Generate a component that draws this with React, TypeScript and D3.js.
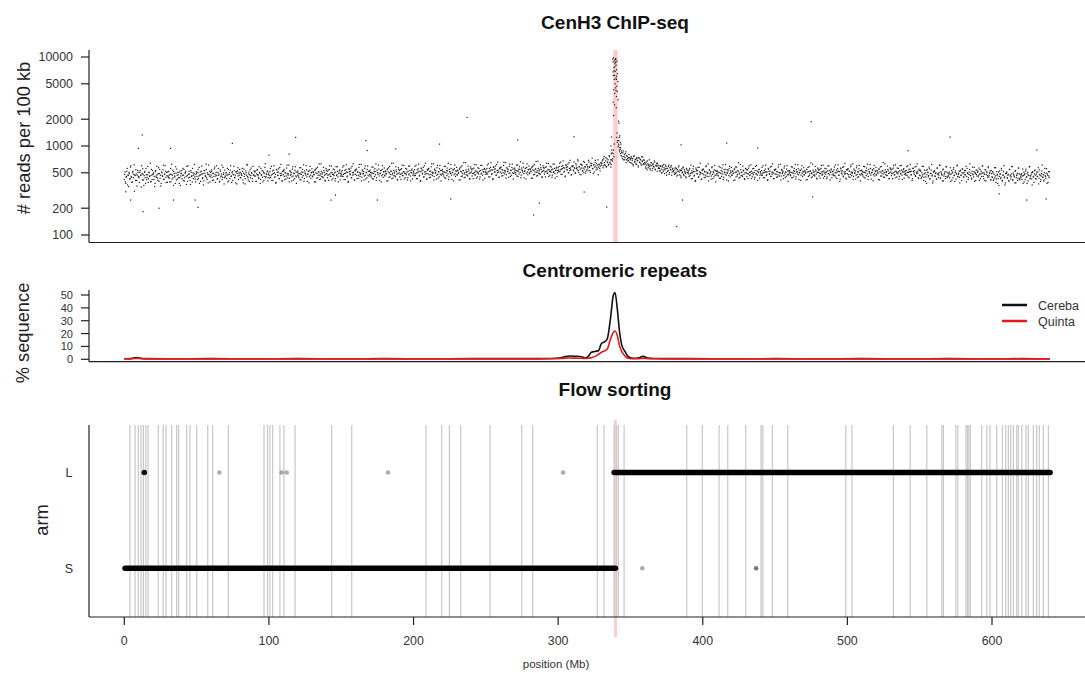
import React from "react";
import * as d3 from "d3";

// CenH3 ChIP-seq reads per 100 kb, one value every 0.5 Mb (rows of 10 Mb)
const chipReads = [
  420,510,380,455,560,470,350,490,430,600,445,395,520,480,310,465,540,410,470,505,
  455,390,530,470,600,415,480,360,505,440,560,420,475,390,510,455,640,400,470,530,
  480,420,350,515,460,590,435,490,400,545,470,380,500,455,610,425,485,520,390,465,
  510,440,470,395,560,480,425,535,360,490,450,585,415,470,505,440,380,525,460,495,
  430,560,470,405,495,520,370,465,600,440,485,410,530,455,395,500,470,620,425,480,
  495,420,545,460,380,510,475,595,430,490,405,530,465,625,440,500,385,480,520,450,
  470,540,410,495,455,580,390,505,470,430,560,485,400,520,460,610,445,480,375,535,
  450,505,470,395,545,480,430,600,460,500,410,475,530,445,385,515,490,570,420,470,
  505,440,480,560,415,495,455,375,525,470,610,440,485,400,540,465,500,430,590,475,
  460,520,400,485,545,470,430,505,380,560,475,445,520,410,495,630,455,480,525,440,
  500,435,560,470,410,525,490,600,445,480,390,540,470,510,430,575,465,495,405,520,
  475,545,420,500,460,610,440,485,395,530,470,505,450,585,415,490,535,460,380,510,
  525,460,490,420,570,480,445,505,615,430,495,470,540,400,485,520,455,590,435,500,
  460,515,480,395,545,500,435,575,470,510,420,485,630,455,500,440,530,470,405,560,
  490,440,535,475,600,455,505,415,480,550,465,500,430,585,475,520,395,490,540,460,
  510,455,580,480,420,530,495,615,450,505,400,545,485,525,440,590,470,505,415,535,
  480,550,430,510,470,620,455,495,405,540,485,515,460,595,425,500,545,470,395,520,
  535,470,500,430,580,490,455,515,630,440,505,480,550,410,495,530,465,600,445,510,
  470,525,490,405,555,510,445,590,480,520,430,495,640,465,510,450,540,480,415,570,
  500,450,545,485,610,465,515,425,490,560,475,510,440,595,485,530,405,500,550,470,
  520,465,590,490,430,540,505,625,460,515,410,555,495,535,450,600,480,515,425,545,
  490,560,440,520,480,630,465,505,415,550,495,525,470,605,435,510,555,480,405,530,
  545,480,510,440,590,500,465,525,640,450,515,490,560,420,505,540,475,610,455,520,
  480,535,500,415,565,520,455,600,490,530,440,505,650,475,520,460,550,490,425,580,
  510,460,555,495,620,475,525,435,500,570,485,520,450,605,495,540,415,510,560,480,
  540,485,610,510,450,560,525,650,480,535,430,575,515,555,470,620,500,535,445,565,
  510,580,460,540,500,655,485,525,435,570,515,545,490,625,455,530,575,500,425,550,
  565,500,530,460,610,520,485,545,665,470,535,510,580,440,525,560,495,630,475,540,
  500,555,520,435,585,540,475,620,510,550,460,525,675,495,540,480,570,510,445,600,
  530,480,575,515,640,495,545,455,520,590,505,540,470,625,515,560,435,530,580,500,
  570,515,640,540,480,590,555,680,510,565,460,605,545,585,500,650,530,565,475,595,
  590,535,660,560,500,610,575,700,530,585,480,625,565,605,520,670,550,585,495,615,
  620,565,690,590,530,640,605,730,560,615,510,655,595,635,550,700,580,615,525,645,
  610,680,570,720,650,600,740,590,660,700,620,760,640,580,700,680,820,760,6200,8800,
  4200,1250,1100,980,1020,860,920,780,840,720,880,760,700,820,650,780,720,690,800,740,
  700,760,640,720,600,780,670,710,620,740,690,580,730,650,700,610,680,750,630,690,
  620,580,660,540,630,600,700,560,610,650,530,620,590,680,550,600,640,520,610,570,
  560,520,600,500,580,540,620,490,555,590,470,560,530,610,500,545,580,470,550,520,
  530,480,570,500,460,545,520,600,475,530,440,555,510,580,465,520,495,440,540,500,
  510,455,560,490,430,525,500,590,460,515,410,545,490,530,445,575,475,505,420,535,
  490,545,440,510,470,600,455,500,405,540,485,515,460,585,430,500,540,470,395,520,
  525,470,500,435,575,490,455,515,615,445,505,480,545,415,495,525,465,590,450,505,
  470,520,490,410,550,505,450,580,480,515,435,495,620,465,505,455,535,480,420,560,
  500,455,540,485,600,465,510,430,490,555,475,505,445,590,485,525,410,500,545,470,
  515,470,575,495,440,530,505,610,465,510,420,550,490,520,455,590,480,510,430,540,
  485,550,445,515,475,615,460,500,415,545,490,520,465,595,440,505,550,475,400,525,
  530,475,505,440,580,495,460,520,620,450,510,485,555,420,500,530,470,600,455,510,
  475,525,495,415,545,510,455,585,485,520,440,500,625,470,510,460,540,485,425,565,
  505,460,545,490,605,470,515,435,495,560,480,510,450,595,490,530,415,505,550,475,
  520,465,580,500,445,535,510,615,470,515,425,555,495,525,460,585,485,515,435,545,
  490,555,450,520,480,610,465,505,420,550,495,525,470,600,445,510,555,480,405,530,
  535,480,510,445,585,500,465,525,625,455,515,490,560,425,505,535,475,605,460,515,
  480,530,500,420,550,515,460,590,490,525,445,505,630,475,515,465,545,490,430,570,
  510,465,550,495,610,475,520,440,500,565,485,515,455,600,495,535,420,510,555,480,
  525,470,585,505,450,540,515,620,475,520,430,560,500,530,465,590,490,520,440,550,
  470,535,430,500,460,590,445,485,400,530,475,505,450,580,425,490,535,460,385,510,
  515,460,490,425,565,480,445,505,605,435,495,470,540,405,485,515,455,585,440,495,
  460,510,480,400,530,495,440,570,470,505,425,485,610,455,495,445,525,470,410,550,
  490,445,530,475,590,455,500,420,480,545,465,495,435,580,475,515,400,490,535,460,
  505,450,565,485,430,520,495,600,455,500,410,540,480,510,445,570,470,500,420,530,
  450,515,410,480,440,570,425,465,380,510,455,485,430,560,405,470,515,440,365,490,
  495,440,470,405,545,460,425,485,585,415,475,450,520,385,465,495,435,565,420,475,
  440,490,460,380,510,475,420,550,450,485,405,465,590,435,475,425,505,450,390,530,
  470,425,510,455,570,435,480,400,460,525,445,475,415,560,455,495,380,470,515,440,
];
// the bins in between (offset 0.25 Mb)
const chipReadsMid = [
  480,395,445,520,365,470,505,425,580,455,390,500,440,615,470,410,485,355,530,450,
  440,505,470,345,490,555,415,465,520,380,475,445,590,430,500,465,395,545,420,485,
  500,455,380,530,445,475,410,570,490,435,355,510,465,540,420,480,600,445,505,390,
  455,520,435,480,395,625,470,440,515,460,380,495,550,425,475,505,440,360,490,530,
  470,410,545,440,500,455,590,400,480,520,445,370,505,465,560,430,490,450,395,515,
  455,505,430,575,470,400,520,485,440,365,530,495,455,545,420,480,610,460,395,505,
  520,445,490,415,555,480,460,600,425,505,470,395,540,450,485,420,575,500,440,460,
  485,430,560,475,405,500,535,455,390,515,480,590,440,470,510,375,525,460,495,545,
  440,495,465,520,385,550,480,430,500,620,455,415,510,475,440,565,495,400,470,525,
  510,460,400,535,475,445,585,490,420,470,530,395,500,455,575,440,485,515,405,480,
  465,520,445,590,480,410,535,500,450,380,545,505,465,555,430,490,620,470,405,515,
  530,455,500,425,565,490,470,610,435,515,480,405,550,460,495,430,585,510,450,470,
  495,440,570,485,415,510,545,465,400,525,490,600,450,480,520,385,535,470,505,555,
  450,505,475,530,395,560,490,440,510,630,465,425,520,485,450,575,505,410,480,535,
  520,470,410,545,485,455,595,500,430,480,540,405,510,465,585,450,495,525,415,490,
  475,530,455,600,490,420,545,510,460,390,555,515,475,565,440,500,630,480,415,525,
  540,465,510,435,575,500,480,620,445,525,490,415,560,470,505,440,595,520,460,480,
  505,450,580,495,425,520,555,475,410,535,500,610,460,490,530,395,545,480,515,565,
  460,515,485,540,405,570,500,450,520,640,475,435,530,495,460,585,515,420,490,545,
  530,480,420,555,495,465,605,510,440,490,550,415,520,475,595,460,505,535,425,500,
  485,540,465,610,500,430,555,520,470,400,565,525,485,575,450,510,640,490,425,535,
  550,475,520,445,585,510,490,630,455,535,500,425,570,480,515,450,605,530,470,490,
  515,460,590,505,435,530,565,485,420,545,510,620,470,500,540,405,555,490,525,575,
  470,525,495,550,415,580,510,460,530,650,485,445,540,505,470,595,525,430,500,555,
  540,490,430,565,505,475,615,520,450,500,560,425,530,485,605,470,515,545,435,510,
  505,560,485,630,520,450,575,540,490,420,585,545,505,595,470,530,660,510,445,555,
  570,495,540,465,605,530,510,650,475,555,520,445,590,500,535,470,625,550,490,510,
  535,480,610,525,455,550,585,505,440,565,530,640,490,520,560,425,575,510,545,595,
  490,545,515,570,435,600,530,480,550,670,505,465,560,525,490,615,545,450,520,575,
  560,510,450,585,525,495,635,540,470,520,580,445,550,505,625,490,535,565,455,530,
  535,590,515,660,550,480,605,570,520,450,615,575,535,625,500,560,690,540,475,585,
  600,525,570,495,635,560,540,680,505,585,550,475,620,530,565,500,655,580,520,540,
  585,530,660,575,505,600,635,555,490,615,580,690,540,570,610,475,625,560,595,645,
  640,700,600,760,620,680,580,720,650,610,780,660,700,620,840,720,900,1050,7800,9400,
  5600,1400,1150,1050,900,960,820,880,760,840,700,800,740,860,700,760,680,740,660,720,
  650,730,690,620,760,660,700,640,720,680,600,740,660,710,630,760,670,620,700,650,
  640,560,610,680,570,620,590,540,650,600,560,630,580,660,540,610,590,640,560,600,
  530,590,550,500,600,520,570,540,610,500,560,520,590,480,570,540,600,510,560,530,
  500,550,490,560,520,470,580,510,540,460,530,500,570,480,545,510,450,560,500,530,
  485,540,465,610,500,430,555,520,470,400,565,525,485,575,450,510,640,490,425,535,
  550,475,520,445,585,510,490,630,455,535,500,425,570,480,515,450,605,530,470,490,
  515,460,590,505,435,530,565,485,420,545,510,620,470,500,540,405,555,490,525,575,
  470,525,495,550,415,580,510,460,530,650,485,445,540,505,470,595,525,430,500,555,
  540,490,430,565,505,475,615,520,450,500,560,425,530,485,605,470,515,545,435,510,
  490,530,470,600,505,440,550,515,475,410,560,520,480,580,455,505,630,495,430,530,
  545,480,515,450,580,505,495,625,460,530,505,430,565,485,510,455,600,525,475,495,
  510,465,585,500,440,525,560,490,425,540,515,615,475,505,535,410,550,495,520,570,
  475,520,500,545,420,575,515,465,525,645,490,450,535,510,475,590,520,435,505,550,
  535,495,435,560,510,480,610,525,455,505,555,430,525,490,600,475,510,540,440,515,
  485,540,465,610,500,430,555,520,470,400,565,525,485,575,450,510,640,490,425,535,
  550,475,520,445,585,510,490,630,455,535,500,425,570,480,515,450,605,530,470,490,
  515,460,590,505,435,530,565,485,420,545,510,620,470,500,540,405,555,490,525,575,
  470,525,495,550,415,580,510,460,530,650,485,445,540,505,470,595,525,430,500,555,
  540,490,430,565,505,475,615,520,450,500,560,425,530,485,605,470,515,545,435,510,
  490,530,470,600,505,440,550,515,475,410,560,520,480,580,455,505,630,495,430,530,
  465,520,445,590,480,410,535,500,450,380,545,505,465,555,430,490,620,470,405,515,
  530,455,500,425,565,490,470,610,435,515,480,405,550,460,495,430,585,510,450,470,
  495,440,570,485,415,510,545,465,400,525,490,600,450,480,520,385,535,470,505,555,
  450,505,475,530,395,560,490,440,510,630,465,425,520,485,450,575,505,410,480,535,
  520,470,410,545,485,455,595,500,430,480,540,405,510,465,585,450,495,525,415,490,
  445,500,425,570,460,390,515,480,430,360,525,485,445,535,410,470,600,450,385,495,
  510,435,480,405,545,470,450,590,415,495,460,385,530,440,475,410,565,490,430,450,
  475,420,550,465,395,490,525,445,380,505,470,580,430,460,500,365,515,450,485,535,
  430,485,455,510,375,540,470,420,490,610,445,405,500,465,430,555,485,390,460,515,
];
const chipStep = 0.5;

// scattered bins away from the main band
const outlierPos = [1, 4.4, 9.7, 12.4, 13, 24, 32, 34, 49, 51, 74.7, 100, 114, 118.5, 143, 146, 167, 168, 175, 187.7, 218, 225.7, 237, 272, 283, 287, 311, 318, 333.6, 382, 385, 386, 416.6, 438, 475, 476, 542, 571, 605, 624, 631, 637.5];
const outlierReads = [306, 247, 940, 1330, 183, 200, 940, 247, 247, 205, 1070, 790, 810, 1250, 247, 281, 1150, 890, 247, 930, 1050, 254, 2100, 1170, 168, 229, 1270, 304, 206, 124, 1030, 247, 1080, 950, 1877, 267, 885, 1260, 290, 247, 900, 254];

// centromere bins
const cenPos = [337.6, 338.0, 338.3, 338.6, 338.9, 339.2, 339.5, 339.8, 340.1, 340.4, 340.7, 341.0, 338.2, 338.8, 339.4, 340.0, 340.6, 341.2, 338.5, 339.1, 339.7, 340.3, 340.9, 341.5, 338.1, 339.0, 340.2, 338.4, 341.8, 342.1, 342.3, 341.9, 336.9, 336.5, 337.0, 336.7, 342.6, 343.0, 343.4, 342.9, 338.7, 339.9, 340.5, 337.9];
const cenReads = [9500, 8800, 9800, 7600, 9200, 8400, 6900, 9600, 8100, 7200, 9000, 6500, 6200, 5600, 5000, 5800, 4700, 5300, 4300, 3900, 4500, 3600, 4100, 3300, 3100, 2900, 2700, 2200, 1900, 1800, 1250, 1150, 1260, 1000, 900, 820, 1300, 1100, 1050, 960, 7000, 8700, 6100, 6800];

const centromere = 339.6;

// centromeric repeats (% sequence)
const repeatPos = [0, 4, 7, 9, 11, 14, 30, 60, 90, 120, 150, 180, 210, 240, 270, 295, 302, 305, 308, 312, 316, 319, 321, 323, 326, 328, 330, 332, 334, 336, 338.2, 339.3, 341, 342.3, 344, 346.3, 348.6, 352, 356, 358.7, 362, 366, 390, 420, 450, 480, 510, 540, 570, 600, 620, 640];
const cereba = [0.4, 0.5, 1.1, 1.3, 0.9, 0.5, 0.4, 0.5, 0.4, 0.5, 0.4, 0.5, 0.4, 0.5, 0.5, 0.6, 1.2, 2.2, 2.6, 2.4, 2.0, 1.0, 2.5, 5.5, 6.2, 6.8, 12.5, 13.6, 16, 30, 50, 52, 38, 23, 11, 6, 2, 0.7, 1.2, 2.3, 1.0, 0.6, 0.5, 0.4, 0.5, 0.4, 0.5, 0.4, 0.5, 0.4, 0.5, 0.4];
const quinta = [0.3, 0.3, 0.6, 0.7, 0.5, 0.3, 0.3, 0.3, 0.3, 0.3, 0.3, 0.3, 0.3, 0.3, 0.3, 0.4, 0.6, 0.9, 1.0, 0.9, 0.8, 0.6, 0.8, 1.3, 2.5, 4, 5.5, 6.5, 8, 15, 21, 22, 18, 11, 6, 2.5, 0.8, 0.4, 0.5, 0.7, 0.5, 0.4, 0.3, 0.3, 0.3, 0.3, 0.3, 0.3, 0.3, 0.3, 0.3, 0.3];

// flow sorting
const sortBreaks = [3.9, 7.4, 9.7, 11.6, 13.2, 14.9, 16.4, 23.5, 26.9, 28.8, 32.8, 36.2, 37.6, 43.1, 45.4, 50.1, 57.7, 61.1, 71.9, 96.6, 99.1, 100.7, 102.6, 107.6, 110.4, 118.1, 143.4, 157.3, 208.6, 219.5, 224.8, 232.6, 252.9, 274.8, 282.4, 327.1, 331.7, 338.7, 340.5, 341.7, 345.6, 388.9, 399.7, 411.3, 417.3, 429.7, 440.3, 441.5, 448.1, 458.8, 498.9, 503.1, 531.8, 543.4, 554.9, 565.3, 566.4, 575, 576.4, 582, 583, 584, 585, 592.9, 596.4, 598.6, 603.3, 607.2, 609.5, 611.3, 613, 614.8, 617.1, 618.2, 620.6, 623.5, 625.1, 628.6, 630.9, 632.7, 635.5, 639];
const armRunStart = [0.5, 338.7];
const armRunEnd = [339.6, 640.2];
const armRunArm = ["S", "L"];
const strayPos = [13.8, 65.7, 108.8, 112.3, 182.4, 303.4, 358.2, 436.9];
const strayArm = ["L", "L", "L", "L", "L", "L", "S", "S"];
const strayCount = [8, 1, 1, 1, 1, 1, 1, 2];

const yTicksReads = [100, 200, 500, 1000, 2000, 5000, 10000];
const yTicksRepeats = [0, 10, 20, 30, 40, 50];
const xTicks = [0, 100, 200, 300, 400, 500, 600];

const W = 1085, H = 673;
const FONT = "'Liberation Sans', Arial, Helvetica, sans-serif";
const left = 89, right = 1085;

export default function App() {
  const x = d3.scaleLinear().domain([0, 600]).range([124.3, 992]);
  const yTop = d3.scaleLog().domain([100, 10000]).range([235, 57]);
  const yMid = d3.scaleLinear().domain([0, 50]).range([359.3, 295]);
  const yArm = d3.scalePoint<string>().domain(["S", "L"]).range([568.3, 472.5]);

  const line = (vals: number[]) =>
    d3.line<number>()
      .x((_, i) => x(repeatPos[i]))
      .y((d) => yMid(d))
      .curve(d3.curveMonotoneX)(vals) || "";

  const fmt = d3.format("d");
  const dot = 1.2;

  return (
    <svg width={W} height={H} style={{ position: "absolute", left: 0, top: 0, background: "#fff" }} fontFamily={FONT}>
      <rect width={W} height={H} fill="#fff" />

      {/* ---------- top panel ---------- */}
      <text x={615} y={29} textAnchor="middle" fontWeight="bold" fontSize={19} fill="#111">CenH3 ChIP-seq</text>
      <rect x={x(centromere) - 2.2} y={50} width={4.4} height={192} fill="#ffcccc" />
      <g fill="#1a1a1a">
        {chipReads.map((v, i) => (
          <rect key={i} x={x(i * chipStep) - dot / 2} y={yTop(v) - dot / 2} width={dot} height={dot} />
        ))}
        {chipReadsMid.map((v, i) => (
          <rect key={"m" + i} x={x(i * chipStep + chipStep / 2) - dot / 2} y={yTop(v) - dot / 2} width={dot} height={dot} />
        ))}
        {outlierPos.map((p, i) => (
          <rect key={"o" + i} x={x(p) - dot / 2} y={yTop(outlierReads[i]) - dot / 2} width={dot} height={dot} />
        ))}
        {cenPos.map((p, i) => (
          <rect key={"c" + i} x={x(p) - dot / 2} y={yTop(cenReads[i]) - dot / 2} width={dot} height={dot} />
        ))}
      </g>
      <line x1={left} x2={left} y1={50} y2={242.5} stroke="#222" strokeWidth={1.2} />
      <line x1={left} x2={right} y1={242.5} y2={242.5} stroke="#222" strokeWidth={1.2} />
      {yTicksReads.map((t) => (
        <g key={t}>
          <line x1={left - 8} x2={left} y1={yTop(t)} y2={yTop(t)} stroke="#222" strokeWidth={1.2} />
          <text x={left - 16} y={yTop(t) + 4.3} textAnchor="end" fontSize={12.4} fill="#333">{fmt(t)}</text>
        </g>
      ))}
      <text transform="translate(30,138) rotate(-90)" textAnchor="middle" fontSize={18.3} fill="#222"># reads per 100 kb</text>

      {/* ---------- middle panel ---------- */}
      <text x={615} y={277} textAnchor="middle" fontWeight="bold" fontSize={19} fill="#111">Centromeric repeats</text>
      <path d={line(cereba)} fill="none" stroke="#111" strokeWidth={1.6} />
      <path d={line(quinta)} fill="none" stroke="#e8191b" strokeWidth={1.6} />
      <line x1={left} x2={left} y1={290} y2={361.7} stroke="#222" strokeWidth={1.2} />
      <line x1={left} x2={right} y1={361.7} y2={361.7} stroke="#222" strokeWidth={1.2} />
      {yTicksRepeats.map((t) => (
        <g key={t}>
          <line x1={left - 8} x2={left} y1={yMid(t)} y2={yMid(t)} stroke="#222" strokeWidth={1.2} />
          <text x={left - 16} y={yMid(t) + 4} textAnchor="end" fontSize={11} fill="#333">{t}</text>
        </g>
      ))}
      <text transform="translate(29,333) rotate(-90)" textAnchor="middle" fontSize={18.3} fill="#222">% sequence</text>
      <line x1={1002} x2={1027} y1={305} y2={305} stroke="#111" strokeWidth={2.5} />
      <line x1={1002} x2={1027} y1={321} y2={321} stroke="#e8191b" strokeWidth={2.5} />
      <text x={1038} y={309.5} fontSize={12.5} fill="#333">Cereba</text>
      <text x={1038} y={325.5} fontSize={12.5} fill="#333">Quinta</text>

      {/* ---------- bottom panel ---------- */}
      <text x={615} y={396} textAnchor="middle" fontWeight="bold" fontSize={19} fill="#111">Flow sorting</text>
      <line x1={x(centromere)} x2={x(centromere)} y1={420} y2={637} stroke="#ffcccc" strokeWidth={3} />
      {sortBreaks.map((b, i) => (
        <line key={i} x1={x(b)} x2={x(b)} y1={425} y2={617} stroke="#c8c8c8" strokeWidth={1.2} />
      ))}
      {armRunStart.map((s, i) => (
        <line key={i} x1={x(s)} x2={x(armRunEnd[i])} y1={yArm(armRunArm[i])} y2={yArm(armRunArm[i])}
          stroke="#000" strokeWidth={5.5} strokeLinecap="round" />
      ))}
      {strayPos.map((p, i) => (
        <circle key={i} cx={x(p)} cy={yArm(strayArm[i])} r={strayCount[i] > 3 ? 2.8 : 2.3}
          fill="#000" fillOpacity={1 - Math.pow(0.68, strayCount[i])} />
      ))}
      <line x1={left} x2={left} y1={425} y2={617} stroke="#222" strokeWidth={1.2} />
      <line x1={left} x2={right} y1={617} y2={617} stroke="#222" strokeWidth={1.2} />
      {["L", "S"].map((a) => (
        <text key={a} x={69} y={(yArm(a) as number) + 4.5} textAnchor="middle" fontSize={12.5} fill="#333">{a}</text>
      ))}
      <text transform="translate(48,520) rotate(-90)" textAnchor="middle" fontSize={18.3} fill="#222">arm</text>
      {xTicks.map((t) => (
        <g key={t}>
          <line x1={x(t)} x2={x(t)} y1={617} y2={625} stroke="#222" strokeWidth={1.2} />
          <text x={x(t)} y={645} textAnchor="middle" fontSize={12.4} fill="#333">{t}</text>
        </g>
      ))}
      <text x={556} y={668} textAnchor="middle" fontSize={11.5} fill="#333">position (Mb)</text>
    </svg>
  );
}
